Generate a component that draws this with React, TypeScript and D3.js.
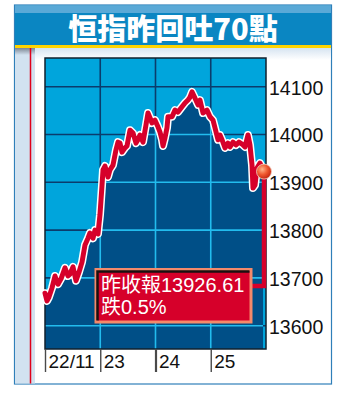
import React from "react";
import * as d3 from "d3";

const title = "恒指昨回吐70點";
const dayLabels = ["22/11", "23", "24", "25"];
const yTicks = [13600, 13700, 13800, 13900, 14000, 14100];
const boxLine1 = "昨收報13926.61";
const boxLine2 = "跌0.5%";

// time in trading days (0..4), index value
const times = [
  0, 0.036, 0.072, 0.127, 0.181, 0.235, 0.29, 0.362, 0.416, 0.452, 0.507, 0.561, 0.615, 0.67, 0.724, 0.778, 0.814, 0.869, 0.905, 0.959, 0.995,
  1.032, 1.05, 1.086, 1.14, 1.176, 1.231, 1.285, 1.321, 1.357, 1.394, 1.448, 1.484, 1.538, 1.593, 1.647, 1.683, 1.719, 1.774, 1.828, 1.864, 1.9, 1.937, 1.991,
  2.045, 2.081, 2.118, 2.136, 2.172, 2.208, 2.226, 2.299, 2.353, 2.407, 2.48, 2.534, 2.588, 2.624, 2.661, 2.715, 2.769, 2.805, 2.86, 2.932, 2.986,
  3.041, 3.077, 3.131, 3.167, 3.204, 3.258, 3.312, 3.348, 3.403, 3.457, 3.511, 3.566, 3.62, 3.674, 3.71, 3.747, 3.765, 3.801, 3.837, 3.891, 3.946,
];
const values = [
  13668, 13652, 13660, 13679, 13704, 13687, 13698, 13721, 13704, 13708, 13723, 13694, 13712, 13733, 13769, 13783, 13794, 13783, 13800, 13792, 13832,
  13894, 13926, 13934, 13911, 13926, 13936, 13968, 13984, 13982, 13963, 13972, 13976, 14009, 14003, 13982, 13989, 13999, 13984, 14020, 14045, 14035, 14024, 14030,
  14016, 14005, 13989, 13976, 13993, 14014, 14037, 14037, 14051, 14047, 14058, 14066, 14072, 14078, 14089, 14076, 14062, 14072, 14045, 14051, 14037,
  14030, 14014, 13989, 13999, 13989, 13972, 13982, 13974, 13984, 13978, 13984, 13980, 13974, 13999, 13978, 13936, 13888, 13894, 13930, 13940, 13926.61,
];
const boxLevel = 13683;

export default function App() {
  const W = 350, H = 393;
  const px0 = 45, px1 = 266, py0 = 58, py1 = 349;
  const x = d3.scaleLinear().domain([0, 4]).range([px0, px1]);
  const y = d3.scaleLinear().domain([13551.3, 14160]).range([py1, py0]);
  const pts: [number, number][] = times.map((t, i) => [t, values[i]]);
  const line = d3.line<[number, number]>().x((d) => x(d[0])).y((d) => y(d[1]));
  const area = d3.area<[number, number]>().x((d) => x(d[0])).y0(py1).y1((d) => y(d[1]));
  const linePath = line(pts) || "";
  const areaPath = area(pts) || "";
  const last = pts[pts.length - 1];
  const lx = x(last[0]) + 1, ly = y(last[1]) + 2;
  const by = y(boxLevel);
  const fontLatin = "'Liberation Sans', Arial, 'Noto Sans CJK TC', sans-serif";
  const fontCJK = "'Noto Sans CJK TC', 'Liberation Sans', sans-serif";
  return (
    <svg width={W} height={H} style={{ position: "absolute", left: 0, top: 0 }}>
      <defs>
        <linearGradient id="under" x1="0" y1="0" x2="0" y2="1">
          <stop offset="0" stopColor="#d6e4f1" />
          <stop offset="1" stopColor="#ffffff" />
        </linearGradient>
        <linearGradient id="leftTop" x1="0" y1="0" x2="0" y2="1">
          <stop offset="0" stopColor="#7c8592" />
          <stop offset="1" stopColor="#d2e2f0" />
        </linearGradient>
        <radialGradient id="dot" cx="0.38" cy="0.35" r="0.7">
          <stop offset="0" stopColor="#ffb48a" />
          <stop offset="0.5" stopColor="#f05a30" />
          <stop offset="1" stopColor="#c0200c" />
        </radialGradient>
        <clipPath id="areaClip">
          <path d={areaPath} />
        </clipPath>
      </defs>
      <rect x={0} y={0} width={W} height={H} fill="#ffffff" />
      {/* frame */}
      <rect x={14.5} y={5} width={317} height={379} fill="#ffffff" stroke="#2f7fb9" strokeWidth={1.2} />
      <rect x={15} y={48} width={316} height={12} fill="url(#under)" />
      <rect x={15} y={5.5} width={316} height={40} fill="#0a86c2" />
      <rect x={15} y={5.5} width={316} height={7.5} fill="#5aa9d7" />
      <rect x={15} y={45} width={316} height={3} fill="#ffd400" />
      <text x={173} y={40} textAnchor="middle" fill="#ffffff" fontSize={29} fontWeight={900} fontFamily={fontCJK}>
        {title}
      </text>
      {/* left column */}
      <rect x={15} y={48} width={20} height={335.5} fill="#d2e2f0" />
      <rect x={15} y={48} width={20} height={7} fill="url(#leftTop)" />
      <line x1={30.5} x2={30.5} y1={48} y2={383.5} stroke="#e0001a" strokeWidth={1.5} />
      {/* plot */}
      <rect x={px0} y={py0} width={px1 - px0} height={py1 - py0} fill="#00a5dc" />
      <g stroke="#0b3c6c" strokeWidth={1.6}>
        {yTicks.map((v) => (
          <line key={v} x1={px0} x2={px1} y1={y(v)} y2={y(v)} />
        ))}
        {[1, 2, 3].map((d) => (
          <line key={d} x1={x(d)} x2={x(d)} y1={py0} y2={py1} />
        ))}
      </g>
      <path d={areaPath} fill="#004f87" />
      <g stroke="#22bcee" strokeWidth={1.6} clipPath="url(#areaClip)">
        {yTicks.map((v) => (
          <line key={v} x1={px0} x2={px1} y1={y(v)} y2={y(v)} />
        ))}
        {[1, 2, 3].map((d) => (
          <line key={d} x1={x(d)} x2={x(d)} y1={py0} y2={py1} />
        ))}
      </g>
      <rect x={px0} y={py0} width={px1 - px0} height={py1 - py0} fill="none" stroke="#10202e" strokeWidth={1.5} />
      {/* connector from last point to box */}
      <path d={`M${lx},${ly} V${by} H252`} fill="none" stroke="#d6002a" strokeWidth={4.5} />
      <path d={linePath} fill="none" stroke="#ffffff" strokeWidth={8} strokeLinejoin="round" strokeLinecap="round" />
      <path d={linePath} fill="none" stroke="#d6002a" strokeWidth={5} strokeLinejoin="round" strokeLinecap="round" />
      <circle cx={lx} cy={ly} r={7.5} fill="url(#dot)" stroke="#f3d6c8" strokeWidth={0.8} />
      {/* box */}
      <rect x={94.5} y={268} width={158} height={55.5} fill="#f4896a" />
      <rect x={97.5} y={271} width={152} height={49.5} fill="#d6002a" />
      <path d="M97.5,320.5 V271.5 H249.5" fill="none" stroke="#1a1010" strokeWidth={2.5} />
      <text x={101} y={292} fill="#ffffff" fontSize={20} fontFamily={fontLatin}>
        {boxLine1}
      </text>
      <text x={101} y={314} fill="#ffffff" fontSize={20} fontFamily={fontLatin}>
        {boxLine2}
      </text>
      {/* y labels */}
      {yTicks.map((v) => (
        <text key={v} x={269} y={y(v) + 8} fill="#111111" fontSize={19.5} fontFamily={fontLatin}>
          {v}
        </text>
      ))}
      {/* x labels */}
      {dayLabels.map((lab, i) => (
        <g key={lab}>
          <line x1={x(i) + 0.5} x2={x(i) + 0.5} y1={py1} y2={372} stroke="#4a4a4a" strokeWidth={i === 2 ? 2.2 : 1.4} />
          <text x={x(i) + 3.5} y={368} fill="#111111" fontSize={19} fontFamily={fontLatin}>
            {lab}
          </text>
        </g>
      ))}
    </svg>
  );
}
